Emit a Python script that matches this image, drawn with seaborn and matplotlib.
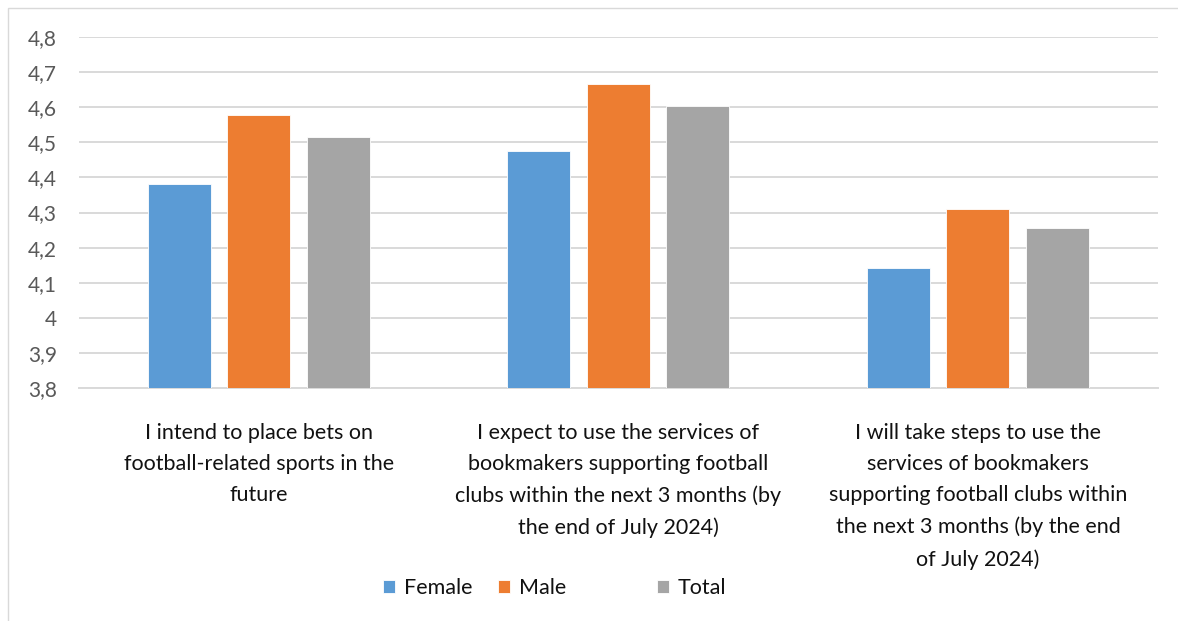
import matplotlib
matplotlib.use("Agg")
import matplotlib.pyplot as plt
from matplotlib.patches import Rectangle
import seaborn as sns
import pandas as pd

# Survey statements (wrapped as they appear under the axis)
statements = [
    "I intend to place bets on\nfootball-related sports in the\nfuture",
    "I expect to use the services of\nbookmakers supporting football\nclubs within the next 3 months (by\nthe end of July 2024)",
    "I will take steps to use the\nservices of bookmakers\nsupporting football clubs within\nthe next 3 months (by the end\nof July 2024)",
]
groups = ["Female", "Male", "Total"]
female = [4.38, 4.475, 4.142]
male = [4.577, 4.665, 4.31]
total = [4.514, 4.604, 4.256]
y_ticks = [3.8, 3.9, 4.0, 4.1, 4.2, 4.3, 4.4, 4.5, 4.6, 4.7, 4.8]
y_tick_labels = ["3,8", "3,9", "4", "4,1", "4,2", "4,3", "4,4", "4,5", "4,6", "4,7", "4,8"]

colors = {"Female": "#5B9BD5", "Male": "#ED7D31", "Total": "#A5A5A5"}

df = pd.DataFrame({
    "statement": statements * 3,
    "group": [g for g in groups for _ in statements],
    "score": female + male + total,
})

sns.set_theme(style="white")
plt.rcParams["font.family"] = ["Lato", "DejaVu Sans"]

fig = plt.figure(figsize=(11.78, 6.21), dpi=100)
ax = fig.add_axes([79 / 1178, 1 - 388 / 621, (1157.7 - 79) / 1178, (388 - 37) / 621])

sns.barplot(
    data=df, x="statement", y="score", hue="group", hue_order=groups,
    order=statements, palette=colors, saturation=1, width=0.664, gap=0.21,
    edgecolor="white", linewidth=0.6, ax=ax, legend=True, zorder=3,
)

ax.set_ylim(3.8, 4.8)
ax.set_xlim(-0.5, 2.5)
ax.set_yticks(y_ticks)
ax.set_yticklabels(y_tick_labels)
ax.yaxis.grid(True, color="#D9D9D9", linewidth=1.4, zorder=0)
ax.set_axisbelow(True)
for side in ["top", "right", "left"]:
    ax.spines[side].set_visible(False)
ax.spines["bottom"].set_color("#D9D9D9")
ax.spines["bottom"].set_linewidth(1.4)
ax.set_xlabel("")
ax.set_ylabel("")
ax.tick_params(axis="y", length=0, pad=16, labelsize=15, labelcolor="#595959")
ax.tick_params(axis="x", length=0, pad=25, labelsize=15.5, labelcolor="#111111")
for lbl in ax.get_xticklabels():
    lbl.set_multialignment("center")
    lbl.set_linespacing(1.70)

handles, labels = ax.get_legend_handles_labels()
ax.legend_.remove()

# One legend entry per series, spread across the bottom strip
entry_x = [383, 498, 657]
for h, lab, x in zip(handles, labels, entry_x):
    leg = fig.legend(
        [h], [lab], loc="center left", bbox_to_anchor=(x / 1178, 1 - 588 / 621),
        frameon=False, fontsize=15.5, handlelength=0.55, handleheight=0.55,
        handletextpad=0.42, borderpad=0, borderaxespad=0,
    )
    for t in leg.get_texts():
        t.set_color("#111111")

# Light chart-area border
fig.add_artist(Rectangle((8 / 1178, -0.05), 1.2, 1 - 8 / 621 + 0.05,
                         transform=fig.transFigure, fill=False,
                         edgecolor="#D9D9D9", linewidth=1.0))

fig.savefig("out.png", dpi=100, facecolor="white")
